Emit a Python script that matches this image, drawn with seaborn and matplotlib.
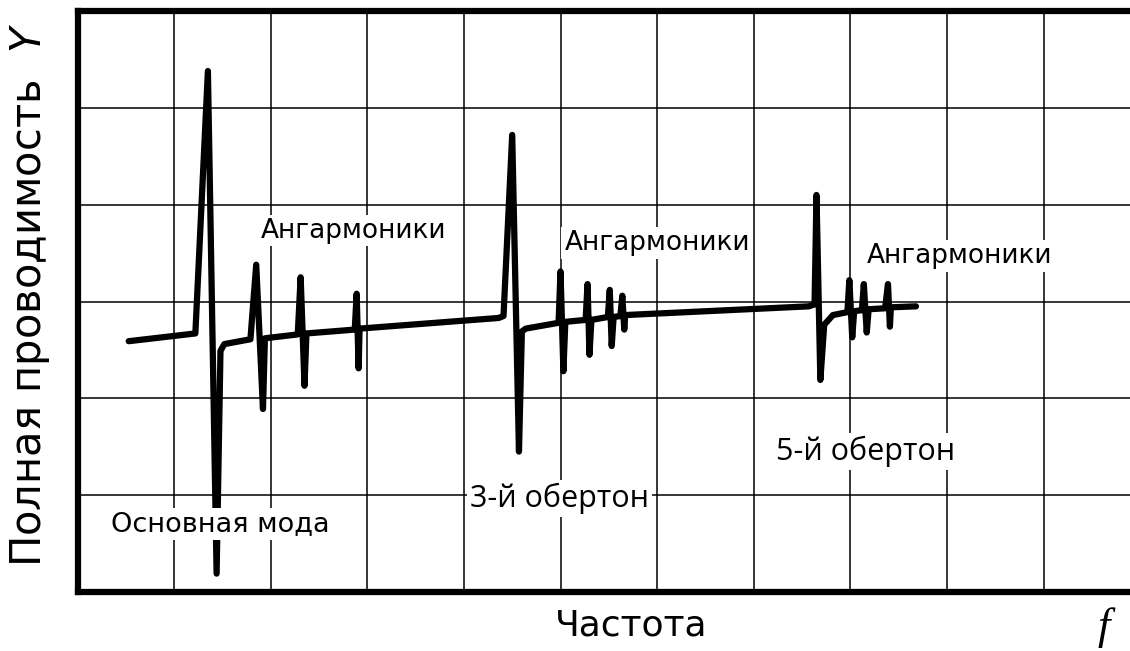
import matplotlib
matplotlib.use("Agg")
import matplotlib.pyplot as plt
import seaborn as sns
import pandas as pd

# ---- data (f and Y in grid units) ----
freq = [0.53, 1.22, 1.35, 1.44, 1.48, 1.52, 1.79,
        1.85, 1.92, 1.94,
        2.28, 2.31, 2.35, 2.37,
        2.87, 2.89, 2.91, 2.92,
        4.36, 4.41, 4.50, 4.57, 4.60, 4.64,
        4.98, 5.00, 5.03, 5.05,
        5.26, 5.28, 5.30, 5.32,
        5.49, 5.51, 5.53, 5.55,
        5.62, 5.64, 5.66, 5.67,
        7.57, 7.63, 7.65, 7.69, 7.73, 7.82,
        7.97, 7.99, 8.02, 8.04,
        8.12, 8.14, 8.17, 8.19,
        8.36, 8.39, 8.41, 8.42,
        8.68]
admittance = [2.59, 2.67, 5.38, 0.19, 2.49, 2.56, 2.61,
              3.38, 1.89, 2.62,
              2.66, 3.25, 2.13, 2.67,
              2.71, 3.08, 2.31, 2.72,
              2.83, 2.85, 4.72, 1.45, 2.69, 2.72,
              2.78, 3.31, 2.28, 2.79,
              2.81, 3.18, 2.45, 2.81,
              2.84, 3.12, 2.54, 2.84,
              2.85, 3.06, 2.71, 2.86,
              2.95, 2.97, 4.10, 2.19, 2.76, 2.86,
              2.89, 3.22, 2.63, 2.90,
              2.91, 3.18, 2.68, 2.92,
              2.93, 3.18, 2.74, 2.94,
              2.95]

anharm_label = "Ангармоники"
mode_labels = ["Основная мода", "3-й обертон", "5-й обертон"]
x_label = "Частота"
y_label = "Полная проводимость  $\\mathit{Y}$"
f_symbol = "f"

# ---- style ----
sns.set_theme(style="white")
plt.rcParams["font.family"] = ["DejaVu Sans"]
plt.rcParams["mathtext.fontset"] = "dejavusans"
plt.rcParams["text.color"] = "black"
plt.rcParams["axes.labelcolor"] = "black"

W, H = 1130, 651
fig = plt.figure(figsize=(W / 100, H / 100), dpi=100)
left_px, top_px, bottom_px = 77.5, 11, 592
ax = fig.add_axes([left_px / W, (H - bottom_px) / H, 1 - left_px / W, (bottom_px - top_px) / H])

df = pd.DataFrame({"f": freq, "Y": admittance})
sns.lineplot(data=df, x="f", y="Y", sort=False, estimator=None, color="black",
             lw=4.5, ax=ax, solid_joinstyle="round", solid_capstyle="round", zorder=2)

grid_px = 96.6
ax.set_xlim(0, (W - left_px) / grid_px)
ax.set_ylim(0, 6)
ax.set_xticks(range(1, 11))
ax.set_yticks(range(1, 6))
ax.tick_params(length=0, labelbottom=False, labelleft=False)
ax.grid(True, color="black", lw=1.1)
ax.set_axisbelow(True)
for s in ["left", "top", "bottom"]:
    ax.spines[s].set_visible(True)
    ax.spines[s].set_color("black")
    ax.spines[s].set_linewidth(4.5)
    ax.spines[s].set_capstyle("projecting")
ax.spines["right"].set_visible(False)

# ---- labels ----
ax.set_xlabel(x_label, fontsize=26, color="black")
ax.xaxis.label.set_va("baseline")
ax.xaxis.set_label_coords((631.5 - left_px) / (W - left_px), (bottom_px - 636) / (bottom_px - top_px))

ax.set_ylabel(y_label, fontsize=30, color="black")
ax.yaxis.label.set_va("center")
ax.yaxis.set_label_coords((30 - left_px) / (W - left_px), (bottom_px - 295) / (bottom_px - top_px))

box = dict(facecolor="white", edgecolor="none", pad=2)
for x, y in [(2.86, 3.66), (6.0, 3.53), (9.13, 3.40)]:
    ax.text(x, y, anharm_label, ha="center", va="baseline", fontsize=19,
            color="black", bbox=box, zorder=3)

ax.text(1.48, 0.63, mode_labels[0], ha="center", va="baseline", fontsize=19.5,
        color="black", bbox=box, zorder=3)
ax.text(4.99, 0.88, mode_labels[1], ha="center", va="baseline", fontsize=22,
        family="Open Sans", color="black", bbox=box, zorder=3)
ax.text(8.16, 1.36, mode_labels[2], ha="center", va="baseline", fontsize=22,
        family="Open Sans", color="black", bbox=box, zorder=3)

fig.text(1104 / W, 1 - 628 / H, f_symbol, ha="center", va="center", fontsize=32,
         family="Liberation Serif", style="italic", color="black")

fig.savefig("out.png", dpi=100, facecolor="white")
